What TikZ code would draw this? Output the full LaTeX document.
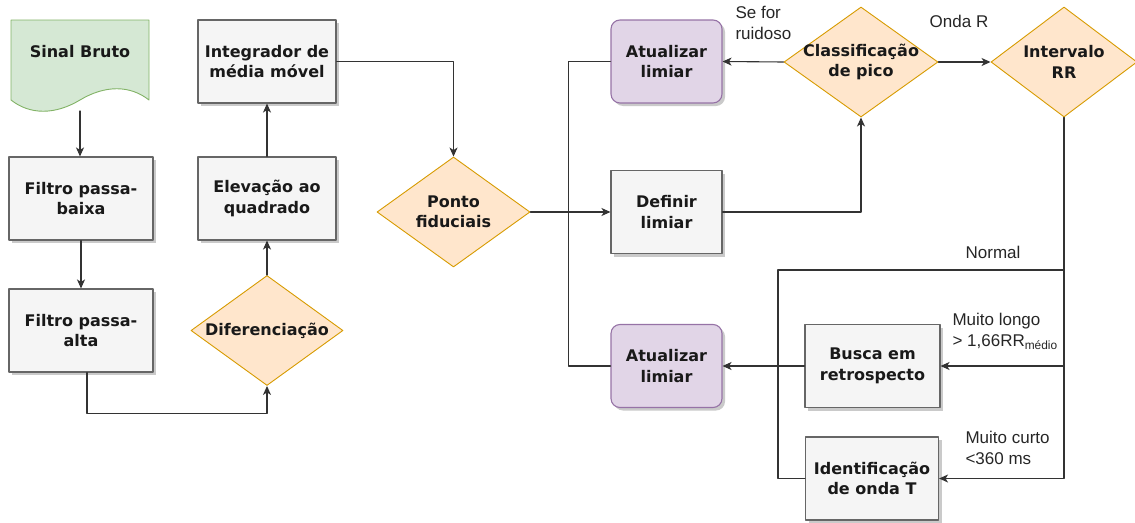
\documentclass[tikz,border=0pt]{standalone}
\usepackage{fontspec}
\setmainfont{DejaVu Sans}
\newfontfamily\lblfont{Liberation Sans}
\usetikzlibrary{arrows.meta,shapes.geometric,shadows}
\definecolor{boxfill}{HTML}{F5F5F5}
\definecolor{boxline}{HTML}{666666}
\definecolor{decfill}{HTML}{FFE6CC}
\definecolor{decline}{HTML}{D79B00}
\definecolor{updfill}{HTML}{E1D5E7}
\definecolor{updline}{HTML}{9673A6}
\definecolor{srcfill}{HTML}{D5E8D4}
\definecolor{srcline}{HTML}{82B366}

\begin{document}
\begin{tikzpicture}[line cap=round,line join=round,>={Stealth[length=9pt,width=8pt,inset=2.5pt]},x=1pt,y=-1pt,
  every node/.style={font=\fontsize{16}{20.5}\selectfont\bfseries,align=center,text=black!90},
  proc/.style={draw=boxline,fill=boxfill,line width=1.1pt,minimum width=#1,minimum height=83pt,
    drop shadow={shadow xshift=3pt,shadow yshift=-3pt,fill=black!35,opacity=.6}},
  proc/.default=144pt,
  upd/.style={proc=111pt,draw=updline,fill=updfill,rounded corners=9pt},
  decision/.style={diamond,draw=decline,fill=decfill,line width=.9pt,inner sep=0pt,
    minimum width=#1,minimum height=110pt},
  decision/.default=153pt,
  dectext/.style={font=\fontsize{16}{20.5}\selectfont\bfseries,align=center},
  edge/.style={draw=black!80,line width=1.1pt},
  cond/.style={font=\lblfont\fontsize{17}{21}\selectfont,text=black!85,align=left}]
\useasboundingbox (0,0) rectangle (1135,522);

% entrada
\draw[draw=srcline,fill=srcfill,line width=.9pt] (11,20) -- (149,20) -- (149,100)
  .. controls (130,85) and (105,85) .. (80,100) .. controls (55,115) and (30,115) .. (11,100) -- cycle;
\node (raw) at (80,52) {Sinal Bruto};
\coordinate (rawb) at (80,111);

% pre-processamento
\node[proc] (lp) at (81,198.5) {Filtro passa-\\baixa};
\node[proc] (hp) at (81,330.5) {Filtro passa-\\alta};
\node[decision=152pt,label={[dectext]center:Diferenciação}] (dif) at (267,330.5) {};
\node[proc=138pt] (sq) at (267,198.5) {Elevação ao\\quadrado};
\node[proc=138pt] (mwi) at (267,61.5) {Integrador de\\média móvel};

% deteccao
\node[decision,label={[dectext]center:Ponto\\fiduciais}] (fid) at (453.5,212) {};
\node[proc=111pt] (thr) at (666.5,212) {Definir\\limiar};
\node[upd] (upd1) at (666.5,61.5) {Atualizar\\limiar};
\node[upd] (upd2) at (666.5,366) {Atualizar\\limiar};
\node[decision=154pt,label={[dectext]center:Classificação\\de pico}] (cls) at (861,62) {};
\node[decision=146pt,label={[dectext]center:Intervalo\\RR}] (rr) at (1064,62) {};
\node[proc=135pt] (bsc) at (872.5,366) {Busca em\\retrospecto};
\node[proc=133pt] (twv) at (872,478.5) {Identificação\\de onda T};
\coordinate (nrm) at (778,270);

% ligacoes
\draw[edge,->] (rawb) -- (rawb |- lp.north);
\draw[edge,->] (lp) -- (hp);
\draw[edge,->] ([xshift=6pt]hp.south) -- ++(0,41) -| (dif.south);
\draw[edge,->] (dif) -- (sq);
\draw[edge,->] (sq) -- (mwi);
\draw[edge,->] (mwi.east) -| (fid.north);
\draw[edge,->] (fid.east) -- (thr.west);
\draw[edge,->] (thr.east) -| (cls.south);
\draw[edge,->] (cls.west) -- (upd1.east);
\draw[edge,->] (cls.east) -- (rr.west);
\draw[edge] (upd1.west) -- ++(-42,0) |- (upd2.west);
\draw[edge,->] (rr.south) |- (twv.east);
\draw[edge,->] (rr.south |- bsc.east) -- (bsc.east);
\draw[edge] (rr.south |- nrm) -- (nrm) |- (twv.west);
\draw[edge,->] (bsc.west) -- (upd2.east);

% condicoes
\node[cond,anchor=west] (noisy) at (732,23) {Se for\\ruidoso};
\node[cond] (rwave) at (959,21) {Onda R};
\node[cond] (normal) at (993,252) {Normal};
\node[cond,anchor=west] (long) at (949,331) {Muito longo\\> 1,66RR\textsubscript{médio}};
\node[cond,anchor=west] (short) at (962,448) {Muito curto\\<360 ms};
\end{tikzpicture}
\end{document}
